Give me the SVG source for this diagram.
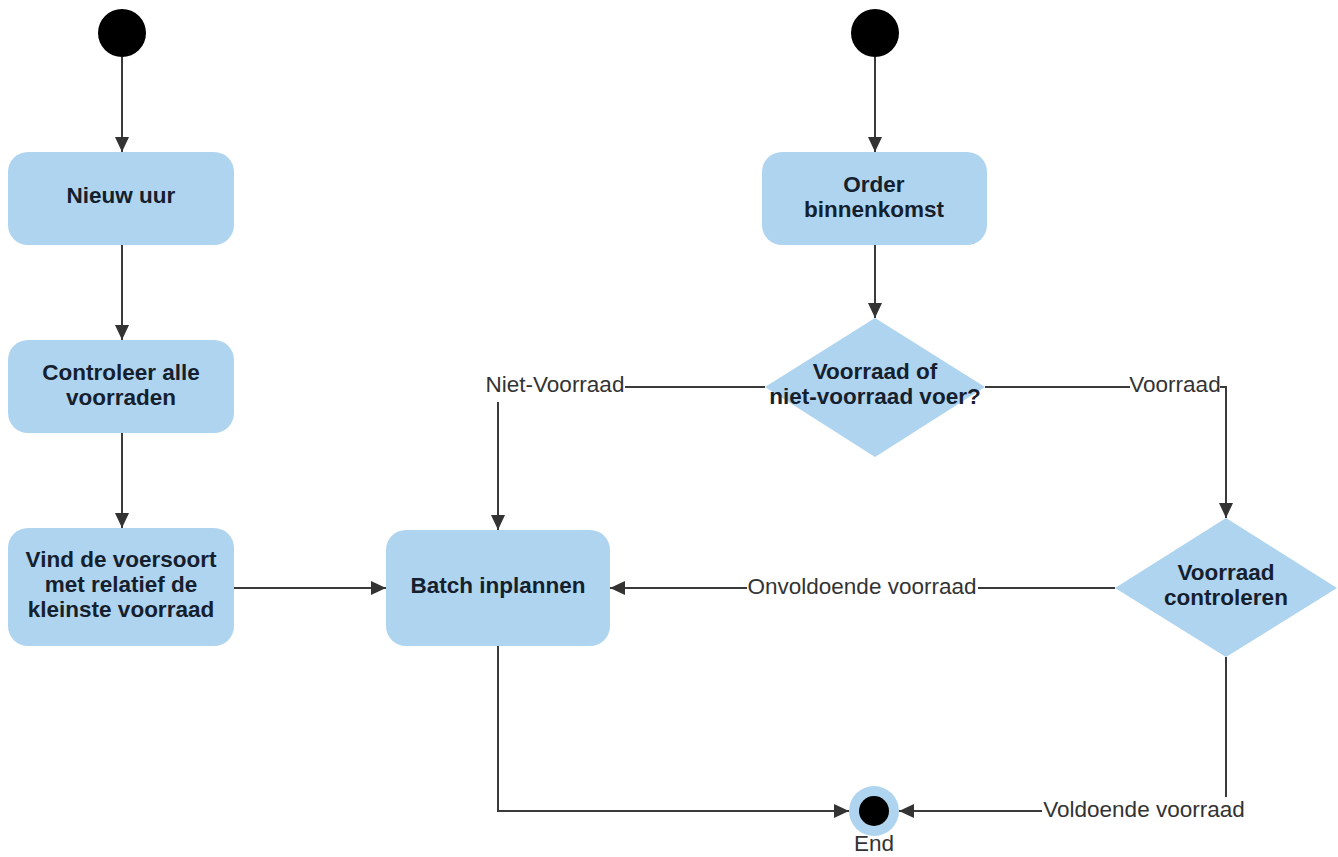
<svg xmlns="http://www.w3.org/2000/svg" width="1338" height="857" viewBox="0 0 1338 857">
  <style>
    .box { fill: #afd4ef; }
    .node-text { font-family: "Liberation Sans", Arial, sans-serif; font-weight: bold; font-size: 22.5px; fill: #15202e; text-anchor: middle; }
    .label { font-family: "Liberation Sans", Arial, sans-serif; font-size: 22.5px; fill: #333333; text-anchor: middle; }
    .edge { fill: none; stroke: #3a3a3a; stroke-width: 2; }
    .label-bg { fill: #ffffff; }
  </style>
  <defs>
    <marker id="arrow" viewBox="0 0 15 14" refX="15" refY="7" markerWidth="15" markerHeight="14" markerUnits="userSpaceOnUse" orient="auto">
      <path d="M0,0 L15,7 L0,14 Z" fill="#333333"/>
    </marker>
  </defs>
  <rect width="1338" height="857" fill="#ffffff"/>

  <!-- connectors -->
  <g id="connectors">
    <path class="edge" d="M122,57 L122,152" marker-end="url(#arrow)"/>
    <path class="edge" d="M122,245 L122,340" marker-end="url(#arrow)"/>
    <path class="edge" d="M122,433 L122,528" marker-end="url(#arrow)"/>
    <path class="edge" d="M234,588 L386,588" marker-end="url(#arrow)"/>
    <path class="edge" d="M875,57 L875,152" marker-end="url(#arrow)"/>
    <path class="edge" d="M875,245 L875,318" marker-end="url(#arrow)"/>
    <path class="edge" d="M765,387 L498,387 L498,530" marker-end="url(#arrow)"/>
    <path class="edge" d="M985,387 L1226,387 L1226,518" marker-end="url(#arrow)"/>
    <path class="edge" d="M1115,588 L610,588" marker-end="url(#arrow)"/>
    <path class="edge" d="M498,646 L498,811 L849,811" marker-end="url(#arrow)"/>
    <path class="edge" d="M1226,657 L1226,811 L899,811" marker-end="url(#arrow)"/>

    <!-- connector labels -->
    <rect class="label-bg" x="485" y="373" width="140" height="29"/>
    <text class="label" x="555" y="392">Niet-Voorraad</text>
    <rect class="label-bg" x="1130" y="373" width="90" height="27"/>
    <text class="label" x="1175" y="392">Voorraad</text>
    <rect class="label-bg" x="747" y="574" width="231" height="27"/>
    <text class="label" x="862" y="594">Onvoldoende voorraad</text>
    <rect class="label-bg" x="1042" y="797" width="205" height="27"/>
    <text class="label" x="1144" y="817">Voldoende voorraad</text>
  </g>

  <!-- start nodes -->
  <g id="start-left">
    <circle cx="122" cy="33" r="24" fill="#000000"/>
  </g>
  <g id="start-right">
    <circle cx="875" cy="33" r="24" fill="#000000"/>
  </g>

  <!-- activities, left flow -->
  <g id="nieuw-uur">
    <rect class="box" x="8" y="152" width="226" height="93" rx="20"/>
    <text class="node-text" x="121" y="203">Nieuw uur</text>
  </g>
  <g id="controleer-voorraden">
    <rect class="box" x="8" y="340" width="226" height="93" rx="20"/>
    <text class="node-text" x="121" y="380">Controleer alle</text>
    <text class="node-text" x="121" y="405">voorraden</text>
  </g>
  <g id="vind-voersoort">
    <rect class="box" x="8" y="528" width="226" height="118" rx="20"/>
    <text class="node-text" x="121" y="567">Vind de voersoort</text>
    <text class="node-text" x="121" y="592">met relatief de</text>
    <text class="node-text" x="121" y="617">kleinste voorraad</text>
  </g>

  <!-- activities, right flow -->
  <g id="order-binnenkomst">
    <rect class="box" x="762" y="152" width="225" height="93" rx="20"/>
    <text class="node-text" x="874" y="192">Order</text>
    <text class="node-text" x="874" y="217">binnenkomst</text>
  </g>
  <g id="batch-inplannen">
    <rect class="box" x="386" y="530" width="224" height="116" rx="20"/>
    <text class="node-text" x="498" y="593">Batch inplannen</text>
  </g>

  <!-- decisions -->
  <g id="keuze-voer">
    <polygon class="box" points="875,318 985,387 875,457 765,387"/>
    <text class="node-text" x="875" y="379">Voorraad of</text>
    <text class="node-text" x="875" y="404">niet-voorraad voer?</text>
  </g>
  <g id="voorraad-controleren">
    <polygon class="box" points="1226,518 1337,588 1226,657 1115,588"/>
    <text class="node-text" x="1226" y="580">Voorraad</text>
    <text class="node-text" x="1226" y="605">controleren</text>
  </g>

  <!-- final node -->
  <g id="end">
    <circle cx="874" cy="811" r="25" fill="#afd4ef"/>
    <circle cx="874" cy="811" r="15" fill="#000000"/>
    <text class="label" x="874" y="851">End</text>
  </g>
</svg>
